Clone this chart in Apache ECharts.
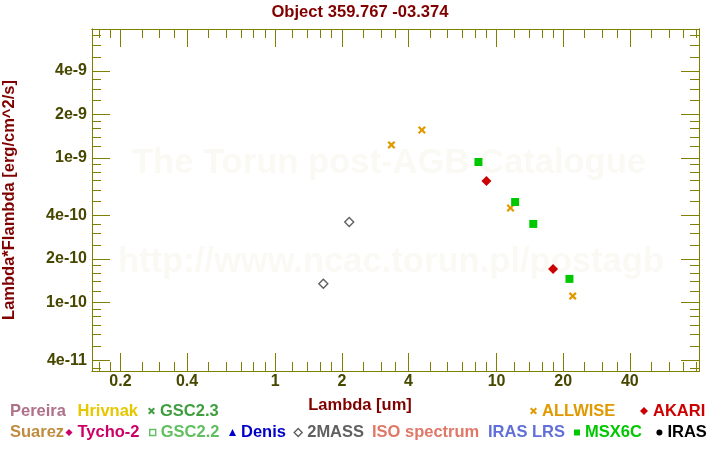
<!DOCTYPE html>
<html><head><meta charset="utf-8">
<script src="https://cdn.jsdelivr.net/npm/echarts@6/dist/echarts.min.js"></script>
<style>html,body{margin:0;padding:0;background:#fff}#c{width:720px;height:450px}</style>
</head><body><div id="c"></div>
<script>
// ---- data (wavelength in um, lambda*F_lambda in erg/cm^2/s) ----
const twoMassX = [1.65, 2.16];
const twoMassY = [1.35e-10, 3.61e-10];
const allwiseX = [3.35, 4.6, 11.56, 22.08];
const allwiseY = [1.23e-9, 1.56e-9, 4.51e-10, 1.11e-10];
const msxX = [8.28, 12.13, 14.65, 21.34];
const msxY = [9.37e-10, 4.96e-10, 3.50e-10, 1.46e-10];
const akariX = [9, 18];
const akariY = [6.93e-10, 1.71e-10];

// ---- axes ----
const xMin = 0.1488, xMax = 82.1;
const yMin = 3.37e-11, yMax = 7.78e-9;
const xMajorTicks = [0.2, 0.4, 1, 2, 4, 10, 20, 40];
const xTickLabels = ['0.2', '0.4', '1', '2', '4', '10', '20', '40'];
const xMinorTicks = [0.16, 0.18, 0.25, 0.3, 0.35, 0.5, 0.6, 0.7, 0.8, 0.9,
  1.2, 1.4, 1.6, 1.8, 2.5, 3, 3.5, 5, 6, 7, 8, 9,
  12, 14, 16, 18, 25, 30, 35, 50, 60, 70, 80];
const yMajorTicks = [4e-11, 1e-10, 2e-10, 4e-10, 1e-9, 2e-9, 4e-9];
const yTickLabels = ['4e-11', '1e-10', '2e-10', '4e-10', '1e-9', '2e-9', '4e-9'];
const yMinorTicks = [3.5e-11, 5e-11, 6e-11, 7e-11, 8e-11, 9e-11,
  1.2e-10, 1.4e-10, 1.6e-10, 1.8e-10, 2.5e-10, 3e-10, 3.5e-10, 5e-10, 6e-10, 7e-10, 8e-10, 9e-10,
  1.2e-9, 1.4e-9, 1.6e-9, 1.8e-9, 2.5e-9, 3e-9, 3.5e-9, 5e-9, 6e-9, 7e-9];

const titleText = 'Object 359.767 -03.374';
const xName = 'Lambda [um]';
const yName = 'Lambda*Flambda [erg/cm^2/s]';

function zip(xs, ys) { return xs.map((x, i) => [x, ys[i]]); }
function labelFor(ticks, labels) {
  return function (v) {
    let best = 0, bd = Infinity;
    for (let i = 0; i < ticks.length; i++) {
      const d = Math.abs(Math.log(v / ticks[i]));
      if (d < bd) { bd = d; best = i; }
    }
    return labels[best];
  };
}

const FONT = 'Liberation Sans';
const axisColor = '#808000';
const labelColor = '#474700';
const crossPath = 'path://M0,1.6L1.6,0L4,2.4L6.4,0L8,1.6L5.6,4L8,6.4L6.4,8L4,5.6L1.6,8L0,6.4L2.4,4Z';

function makeAxis(kind, pos, ticks, len, withLabels) {
  const isX = kind === 'x';
  const ax = {
    type: 'log', logBase: 10, gridIndex: 0, position: pos,
    min: isX ? xMin : yMin, max: isX ? xMax : yMax,
    axisLine: { show: true, onZero: false, lineStyle: { color: axisColor, width: 1 } },
    axisTick: { show: true, inside: true, length: len, customValues: ticks, lineStyle: { color: axisColor, width: 1 } },
    axisLabel: { show: false },
    splitLine: { show: false }, minorTick: { show: false }, minorSplitLine: { show: false }
  };
  if (withLabels) {
    ax.axisLabel = {
      show: true, customValues: ticks,
      formatter: isX ? labelFor(xMajorTicks, xTickLabels) : labelFor(yMajorTicks, yTickLabels),
      margin: isX ? 3 : 5, color: labelColor, fontSize: 16, fontWeight: 'bold', fontFamily: FONT
    };
  }
  return ax;
}

const xAxes = [
  makeAxis('x', 'bottom', xMajorTicks, 18, true),
  makeAxis('x', 'bottom', xMinorTicks, 9, false),
  makeAxis('x', 'top', xMajorTicks, 18, false),
  makeAxis('x', 'top', xMinorTicks, 9, false)
];
const yAxes = [
  makeAxis('y', 'left', yMajorTicks, 18, true),
  makeAxis('y', 'left', yMinorTicks, 9, false),
  makeAxis('y', 'right', yMajorTicks, 18, false),
  makeAxis('y', 'right', yMinorTicks, 9, false)
];
Object.assign(yAxes[0], {
  name: yName, nameLocation: 'middle', nameRotate: 90, nameGap: 74,
  nameTextStyle: { color: '#800000', fontSize: 16.5, fontWeight: 'bold', fontFamily: FONT }
});

// ---- catalogues (series + legend) ----
const catalogues = [
  { name: 'Pereira', color: '#b0708a', symbol: null },
  { name: 'Hrivnak', color: '#e6c800', symbol: null },
  { name: 'GSC2.3', color: '#3f9f3f', symbol: crossPath, size: 7 },
  { name: 'ALLWISE', color: '#e09a00', symbol: crossPath, size: 8, data: zip(allwiseX, allwiseY) },
  { name: 'AKARI', color: '#cc0000', symbol: 'diamond', size: 10, data: zip(akariX, akariY) },
  { name: 'Suarez', color: '#c08c40', symbol: null },
  { name: 'Tycho-2', color: '#cc0066', symbol: 'diamond', size: 8 },
  { name: 'GSC2.2', color: '#60c060', symbol: 'rect', size: 6, open: true },
  { name: 'Denis', color: '#0000c8', symbol: 'triangle', size: 7 },
  { name: '2MASS', color: '#606060', symbol: 'diamond', size: 9, open: true, data: zip(twoMassX, twoMassY) },
  { name: 'ISO spectrum', color: '#e07868', symbol: null },
  { name: 'IRAS LRS', color: '#6070d8', symbol: null },
  { name: 'MSX6C', color: '#00c800', symbol: 'rect', size: 8, data: zip(msxX, msxY) },
  { name: 'IRAS', color: '#000000', symbol: 'circle', size: 6 }
];

function styleFor(c) {
  return c.open ? { color: '#ffffff', borderColor: c.color, borderWidth: 1.4, opacity: 1 }
                : { color: c.color, opacity: 1 };
}

const series = catalogues.map(c => ({
  name: c.name, type: 'scatter', xAxisIndex: 0, yAxisIndex: 0,
  symbol: c.symbol || 'circle', symbolSize: c.size || 6,
  itemStyle: styleFor(c), data: c.data || [], z: 3, silent: true
}));

// legend placement: [name, textLeft, row, iconSize]
const legendLayout = [
  ['Pereira', 10, 0, 0], ['Hrivnak', 77.5, 0, 0], ['GSC2.3', 160, 0, 7],
  ['ALLWISE', 542, 0, 7], ['AKARI', 653, 0, 8],
  ['Suarez', 10, 1, 0], ['Tycho-2', 77.5, 1, 7], ['GSC2.2', 160, 1, 6],
  ['Denis', 241, 1, 7], ['2MASS', 306.5, 1, 8], ['ISO spectrum', 372, 1, 0],
  ['IRAS LRS', 488, 1, 0], ['MSX6C', 585, 1, 6], ['IRAS', 667.4, 1, 6]
];
const rowTop = [402.5, 424];
const legends = legendLayout.map(([name, textLeft, row, sz]) => {
  const c = catalogues.find(k => k.name === name);
  const item = { name: name, textStyle: { color: c.color } };
  if (c.symbol) { item.icon = c.symbol; item.itemStyle = styleFor(c); }
  else { item.icon = 'rect'; item.itemStyle = { opacity: 0 }; }
  return {
    data: [item], left: textLeft - sz - 5, top: rowTop[row], padding: 0,
    itemWidth: sz, itemHeight: Math.max(sz, 1), selectedMode: false, orient: 'horizontal',
    textStyle: { fontSize: 16.5, fontWeight: 'bold', fontFamily: FONT }
  };
});

const chart = echarts.init(document.getElementById('c'), null, { renderer: 'canvas' });
chart.setOption({
  backgroundColor: '#ffffff',
  animation: false,
  title: [
    { text: titleText, left: 'center', top: 4, padding: 0,
      textStyle: { color: '#800000', fontSize: 16.6, fontWeight: 'bold', fontFamily: FONT } },
    { text: xName, left: 'center', top: 396.5, padding: 0,
      textStyle: { color: '#800000', fontSize: 16.5, fontWeight: 'bold', fontFamily: FONT } }
  ],
  grid: { left: 92, right: 21, top: 29, bottom: 79, containLabel: false, outerBoundsMode: 'none' },
  xAxis: xAxes,
  yAxis: yAxes,
  legend: legends,
  graphic: [
    { type: 'text', x: 389, y: 163, z: 0, silent: true,
      style: { text: 'The Torun post-AGB Catalogue', fill: '#fbf9f3', align: 'center', verticalAlign: 'middle',
               font: 'bold 34.6px "Liberation Sans"' } },
    { type: 'text', x: 391, y: 262, z: 0, silent: true,
      style: { text: 'http://www.ncac.torun.pl/postagb', fill: '#fbf9f3', align: 'center', verticalAlign: 'middle',
               font: 'bold 34.6px "Liberation Sans"' } }
  ],
  series: series
});
</script>
</body></html>
